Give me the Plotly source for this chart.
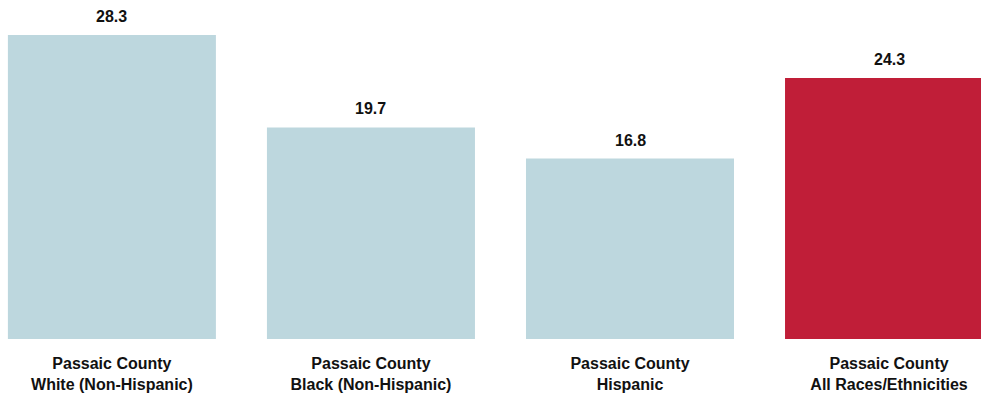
import plotly.graph_objects as go

categories = ["Passaic County<br>White (Non-Hispanic)", "Passaic County<br>Black (Non-Hispanic)",
              "Passaic County<br>Hispanic", "Passaic County<br>All Races/Ethnicities"]
values = [28.3, 19.7, 16.8, 24.3]
value_labels = ["28.3", "19.7", "16.8", "24.3"]
colors = ["#BDD7DE", "#BDD7DE", "#BDD7DE", "#C01E38"]

FONT = "Liberation Sans Narrow, Arial Narrow, Liberation Sans, Arial, sans-serif"

fig = go.Figure(go.Bar(
    x=list(range(len(categories))), y=values, marker_color=colors,
    marker_line_width=0, hoverinfo="skip"))

for i, (v, t) in enumerate(zip(values, value_labels)):
    fig.add_annotation(x=i, y=v, text="<b>%s</b>" % t, showarrow=False,
                       yanchor="bottom", yshift=8,
                       font=dict(family=FONT, size=16, color="#111111"))

fig.update_layout(
    width=981, height=398,
    margin=dict(l=0, r=0, t=0, b=59, autoexpand=False),
    paper_bgcolor="white", plot_bgcolor="white",
    bargap=0.197, showlegend=False,
    xaxis=dict(range=[-0.432, 3.355], tickmode="array",
               tickvals=list(range(len(categories))),
               ticktext=["<b>%s</b>" % c for c in categories],
               tickfont=dict(family=FONT, size=16, color="#111111"),
               ticklabelstandoff=13, automargin=False,
               showgrid=False, zeroline=False, showline=False, ticks=""),
    yaxis=dict(range=[0, 31.56], visible=False, automargin=False),
)

fig.write_html("out.html", config={"displayModeBar": False},
               post_script="document.body.style.margin='0';document.body.style.overflow='hidden';")
